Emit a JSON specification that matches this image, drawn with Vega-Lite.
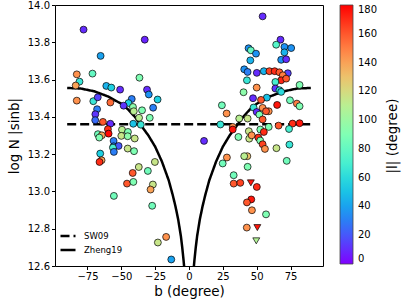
{
  "$schema": "https://vega.github.io/schema/vega-lite/v6.json",
  "width": 268,
  "height": 261,
  "autosize": "none",
  "padding": {"left": 55, "top": 5, "right": 84, "bottom": 39},
  "config": {
    "font": "DejaVu Sans",
    "view": {"stroke": "black", "strokeWidth": 1},
    "axis": {
      "grid": false,
      "domain": false,
      "tickColor": "black",
      "tickSize": 3.5,
      "labelColor": "black",
      "labelFontSize": 10,
      "labelPadding": 2,
      "labelOverlap": false,
      "labelFlush": false,
      "labelBound": false,
      "titleColor": "black",
      "titleFontSize": 13.5,
      "titleFontWeight": "normal"
    },
    "legend": {
      "labelFont": "DejaVu Sans",
      "titleFont": "DejaVu Sans"
    }
  },
  "resolve": {"axis": {"y": "independent"}},
  "layer": [
    {
      "data": {
        "values": [
          {"series": "SW09", "part": "a", "b": -90, "v": 13.36},
          {"series": "SW09", "part": "a", "b": 90, "v": 13.36},
          {"series": "Zheng19", "part": "L", "b": -90, "v": 13.555},
          {"series": "Zheng19", "part": "L", "b": -80, "v": 13.552},
          {"series": "Zheng19", "part": "L", "b": -70, "v": 13.537},
          {"series": "Zheng19", "part": "L", "b": -60, "v": 13.51},
          {"series": "Zheng19", "part": "L", "b": -50, "v": 13.47},
          {"series": "Zheng19", "part": "L", "b": -45, "v": 13.44},
          {"series": "Zheng19", "part": "L", "b": -40, "v": 13.4},
          {"series": "Zheng19", "part": "L", "b": -35, "v": 13.35},
          {"series": "Zheng19", "part": "L", "b": -30, "v": 13.3},
          {"series": "Zheng19", "part": "L", "b": -25, "v": 13.24},
          {"series": "Zheng19", "part": "L", "b": -20, "v": 13.16},
          {"series": "Zheng19", "part": "L", "b": -15, "v": 13.06},
          {"series": "Zheng19", "part": "L", "b": -12, "v": 12.98},
          {"series": "Zheng19", "part": "L", "b": -10, "v": 12.92},
          {"series": "Zheng19", "part": "L", "b": -8, "v": 12.85},
          {"series": "Zheng19", "part": "L", "b": -6, "v": 12.76},
          {"series": "Zheng19", "part": "L", "b": -5, "v": 12.7},
          {"series": "Zheng19", "part": "L", "b": -4, "v": 12.63},
          {"series": "Zheng19", "part": "L", "b": -3.5, "v": 12.59},
          {"series": "Zheng19", "part": "R", "b": 3.5, "v": 12.59},
          {"series": "Zheng19", "part": "R", "b": 4, "v": 12.63},
          {"series": "Zheng19", "part": "R", "b": 5, "v": 12.7},
          {"series": "Zheng19", "part": "R", "b": 6, "v": 12.76},
          {"series": "Zheng19", "part": "R", "b": 8, "v": 12.85},
          {"series": "Zheng19", "part": "R", "b": 10, "v": 12.92},
          {"series": "Zheng19", "part": "R", "b": 12, "v": 12.98},
          {"series": "Zheng19", "part": "R", "b": 15, "v": 13.06},
          {"series": "Zheng19", "part": "R", "b": 20, "v": 13.16},
          {"series": "Zheng19", "part": "R", "b": 25, "v": 13.24},
          {"series": "Zheng19", "part": "R", "b": 30, "v": 13.3},
          {"series": "Zheng19", "part": "R", "b": 35, "v": 13.35},
          {"series": "Zheng19", "part": "R", "b": 40, "v": 13.4},
          {"series": "Zheng19", "part": "R", "b": 45, "v": 13.44},
          {"series": "Zheng19", "part": "R", "b": 50, "v": 13.47},
          {"series": "Zheng19", "part": "R", "b": 60, "v": 13.51},
          {"series": "Zheng19", "part": "R", "b": 70, "v": 13.537},
          {"series": "Zheng19", "part": "R", "b": 80, "v": 13.552},
          {"series": "Zheng19", "part": "R", "b": 90, "v": 13.555}
        ]
      },
      "mark": {"type": "line", "stroke": "black", "strokeWidth": 2.5, "clip": true},
      "encoding": {
        "x": {
          "field": "b",
          "type": "quantitative",
          "scale": {"domain": [-99, 99], "nice": false, "zero": false},
          "axis": {"values": [-75, -50, -25, 0, 25, 50, 75], "title": "b (degree)", "titlePadding": 3}
        },
        "y": {
          "field": "v",
          "type": "quantitative",
          "scale": {"domain": [12.6, 14.0], "nice": false, "zero": false},
          "axis": {"orient": "left", "values": [12.6, 12.8, 13.0, 13.2, 13.4, 13.6, 13.8, 14.0], "format": ".1f", "title": "log N |sinb|", "titlePadding": 6}
        },
        "detail": {"field": "part"},
        "strokeDash": {
          "field": "series",
          "type": "nominal",
          "scale": {"domain": ["SW09", "Zheng19"], "range": [[9, 4], [1, 0]]},
          "legend": {
            "title": null,
            "orient": "none",
            "legendX": 4,
            "legendY": 222,
            "symbolType": "stroke",
            "symbolStrokeColor": "black",
            "symbolStrokeWidth": 2.5,
            "symbolSize": 225,
            "labelFontSize": 8.5,
            "labelColor": "black",
            "labelOffset": 7,
            "rowPadding": 0
          }
        }
      }
    },
    {
      "data": {
        "values": [
          {"b": -77.9, "v": 13.868, "l": 10, "s": "c"},
          {"b": -32.7, "v": 13.814, "l": 8, "s": "c"},
          {"b": -65.3, "v": 13.727, "l": 40, "s": "c"},
          {"b": -82.9, "v": 13.628, "l": 145, "s": "c"},
          {"b": -71.3, "v": 13.632, "l": 80, "s": "c"},
          {"b": -80.9, "v": 13.589, "l": 65, "s": "c"},
          {"b": -83.7, "v": 13.568, "l": 140, "s": "c"},
          {"b": -36.6, "v": 13.61, "l": 90, "s": "c"},
          {"b": -61.1, "v": 13.566, "l": 45, "s": "c"},
          {"b": -57.4, "v": 13.557, "l": 55, "s": "c"},
          {"b": -50.9, "v": 13.546, "l": 10, "s": "c"},
          {"b": -31.0, "v": 13.546, "l": 10, "s": "c"},
          {"b": -29.7, "v": 13.52, "l": 35, "s": "c"},
          {"b": -82.9, "v": 13.487, "l": 145, "s": "c"},
          {"b": -70.7, "v": 13.484, "l": 65, "s": "c"},
          {"b": -67.4, "v": 13.505, "l": 15, "s": "c"},
          {"b": -23.2, "v": 13.493, "l": 55, "s": "c"},
          {"b": -58.1, "v": 13.477, "l": 155, "s": "c"},
          {"b": -42.3, "v": 13.496, "l": 30, "s": "c"},
          {"b": -44.7, "v": 13.474, "l": 55, "s": "c"},
          {"b": -48.3, "v": 13.46, "l": 12, "s": "c"},
          {"b": -26.5, "v": 13.449, "l": 30, "s": "c"},
          {"b": -41.4, "v": 13.453, "l": 95, "s": "c"},
          {"b": -34.7, "v": 13.435, "l": 90, "s": "c"},
          {"b": -67.9, "v": 13.441, "l": 30, "s": "c"},
          {"b": -69.2, "v": 13.414, "l": 12, "s": "c"},
          {"b": -40.8, "v": 13.43, "l": 110, "s": "c"},
          {"b": -36.9, "v": 13.395, "l": 110, "s": "c"},
          {"b": -29.0, "v": 13.395, "l": 90, "s": "c"},
          {"b": -69.3, "v": 13.382, "l": 25, "s": "c"},
          {"b": -63.6, "v": 13.373, "l": 160, "s": "c"},
          {"b": -58.1, "v": 13.363, "l": 10, "s": "c"},
          {"b": -41.2, "v": 13.363, "l": 50, "s": "c"},
          {"b": -35.6, "v": 13.358, "l": 65, "s": "c"},
          {"b": -59.9, "v": 13.334, "l": 170, "s": "c"},
          {"b": -59.4, "v": 13.31, "l": 178, "s": "c"},
          {"b": -67.3, "v": 13.307, "l": 85, "s": "c"},
          {"b": -64.4, "v": 13.301, "l": 140, "s": "c"},
          {"b": -66.3, "v": 13.289, "l": 90, "s": "c"},
          {"b": -49.5, "v": 13.331, "l": 110, "s": "c"},
          {"b": -45.1, "v": 13.319, "l": 90, "s": "c"},
          {"b": -50.0, "v": 13.298, "l": 115, "s": "c"},
          {"b": -45.3, "v": 13.296, "l": 95, "s": "c"},
          {"b": -40.1, "v": 13.284, "l": 115, "s": "c"},
          {"b": -55.7, "v": 13.271, "l": 30, "s": "c"},
          {"b": -55.7, "v": 13.242, "l": 30, "s": "c"},
          {"b": -52.0, "v": 13.244, "l": 20, "s": "c"},
          {"b": -56.2, "v": 13.235, "l": 70, "s": "c"},
          {"b": -55.5, "v": 13.212, "l": 30, "s": "c"},
          {"b": -45.3, "v": 13.23, "l": 115, "s": "c"},
          {"b": -40.6, "v": 13.216, "l": 90, "s": "c"},
          {"b": -65.6, "v": 13.203, "l": 55, "s": "c"},
          {"b": -64.6, "v": 13.167, "l": 140, "s": "c"},
          {"b": -66.1, "v": 13.158, "l": 170, "s": "c"},
          {"b": -37.1, "v": 13.131, "l": 115, "s": "c"},
          {"b": -30.4, "v": 13.11, "l": 85, "s": "c"},
          {"b": -41.6, "v": 13.099, "l": 160, "s": "c"},
          {"b": -25.2, "v": 13.158, "l": 115, "s": "c"},
          {"b": -45.8, "v": 13.042, "l": 160, "s": "c"},
          {"b": -41.1, "v": 13.051, "l": 90, "s": "c"},
          {"b": -26.7, "v": 13.037, "l": 115, "s": "c"},
          {"b": -28.4, "v": 13.01, "l": 140, "s": "c"},
          {"b": -55.5, "v": 12.976, "l": 85, "s": "c"},
          {"b": -27.2, "v": 12.923, "l": 85, "s": "c"},
          {"b": -16.9, "v": 12.756, "l": 145, "s": "c"},
          {"b": -23.0, "v": 12.726, "l": 115, "s": "c"},
          {"b": -13.1, "v": 12.635, "l": 40, "s": "c"},
          {"b": 54.4, "v": 13.939, "l": 10, "s": "c"},
          {"b": 67.6, "v": 13.814, "l": 10, "s": "c"},
          {"b": 64.4, "v": 13.787, "l": 75, "s": "c"},
          {"b": 44.0, "v": 13.768, "l": 35, "s": "c"},
          {"b": 45.7, "v": 13.757, "l": 80, "s": "c"},
          {"b": 70.5, "v": 13.775, "l": 35, "s": "c"},
          {"b": 75.5, "v": 13.769, "l": 35, "s": "c"},
          {"b": 70.5, "v": 13.746, "l": 45, "s": "c"},
          {"b": 49.5, "v": 13.739, "l": 35, "s": "c"},
          {"b": 45.3, "v": 13.703, "l": 45, "s": "c"},
          {"b": 68.1, "v": 13.706, "l": 35, "s": "c"},
          {"b": 71.8, "v": 13.709, "l": 10, "s": "c"},
          {"b": 40.8, "v": 13.655, "l": 35, "s": "c"},
          {"b": 43.3, "v": 13.641, "l": 30, "s": "c"},
          {"b": 50.1, "v": 13.636, "l": 10, "s": "c"},
          {"b": 55.3, "v": 13.645, "l": 45, "s": "c"},
          {"b": 59.4, "v": 13.645, "l": 165, "s": "c"},
          {"b": 63.3, "v": 13.645, "l": 170, "s": "c"},
          {"b": 66.8, "v": 13.639, "l": 160, "s": "c"},
          {"b": 73.0, "v": 13.634, "l": 15, "s": "c"},
          {"b": 69.3, "v": 13.623, "l": 150, "s": "c"},
          {"b": 42.8, "v": 13.596, "l": 65, "s": "c"},
          {"b": 68.1, "v": 13.596, "l": 172, "s": "c"},
          {"b": 71.8, "v": 13.605, "l": 160, "s": "c"},
          {"b": 63.8, "v": 13.587, "l": 70, "s": "c"},
          {"b": 81.7, "v": 13.571, "l": 90, "s": "c"},
          {"b": 40.3, "v": 13.532, "l": 95, "s": "c"},
          {"b": 50.0, "v": 13.557, "l": 145, "s": "c"},
          {"b": 63.8, "v": 13.552, "l": 12, "s": "c"},
          {"b": 47.3, "v": 13.5, "l": 10, "s": "c"},
          {"b": 57.5, "v": 13.503, "l": 50, "s": "c"},
          {"b": 74.6, "v": 13.489, "l": 85, "s": "c"},
          {"b": 53.2, "v": 13.491, "l": 160, "s": "c"},
          {"b": 65.1, "v": 13.464, "l": 175, "s": "c"},
          {"b": 79.7, "v": 13.471, "l": 150, "s": "c"},
          {"b": 81.7, "v": 13.457, "l": 90, "s": "c"},
          {"b": 24.3, "v": 13.462, "l": 85, "s": "c"},
          {"b": 27.8, "v": 13.418, "l": 145, "s": "c"},
          {"b": 37.1, "v": 13.391, "l": 110, "s": "c"},
          {"b": 23.2, "v": 13.359, "l": 65, "s": "c"},
          {"b": 32.3, "v": 13.346, "l": 145, "s": "c"},
          {"b": 32.3, "v": 13.332, "l": 175, "s": "c"},
          {"b": 66.2, "v": 13.353, "l": 160, "s": "c"},
          {"b": 76.5, "v": 13.364, "l": 170, "s": "c"},
          {"b": 81.7, "v": 13.366, "l": 175, "s": "c"},
          {"b": 73.9, "v": 13.335, "l": 70, "s": "c"},
          {"b": 66.8, "v": 13.543, "l": 60, "s": "c"},
          {"b": 68.1, "v": 13.534, "l": 60, "s": "c"},
          {"b": 47.7, "v": 13.45, "l": 65, "s": "c"},
          {"b": 54.4, "v": 13.448, "l": 145, "s": "c"},
          {"b": 58.9, "v": 13.43, "l": 145, "s": "c"},
          {"b": 50.0, "v": 13.426, "l": 10, "s": "c"},
          {"b": 52.0, "v": 13.412, "l": 90, "s": "c"},
          {"b": 56.9, "v": 13.43, "l": 160, "s": "c"},
          {"b": 43.3, "v": 13.391, "l": 115, "s": "c"},
          {"b": 54.4, "v": 13.386, "l": 160, "s": "c"},
          {"b": 58.9, "v": 13.346, "l": 90, "s": "c"},
          {"b": 52.7, "v": 13.332, "l": 90, "s": "c"},
          {"b": 55.3, "v": 13.319, "l": 170, "s": "c"},
          {"b": 36.5, "v": 13.292, "l": 90, "s": "c"},
          {"b": 44.2, "v": 13.323, "l": 115, "s": "c"},
          {"b": 44.5, "v": 13.283, "l": 115, "s": "c"},
          {"b": 46.3, "v": 13.301, "l": 145, "s": "c"},
          {"b": 51.2, "v": 13.289, "l": 170, "s": "c"},
          {"b": 52.6, "v": 13.273, "l": 90, "s": "c"},
          {"b": 54.4, "v": 13.253, "l": 165, "s": "c"},
          {"b": 56.1, "v": 13.228, "l": 145, "s": "c"},
          {"b": 64.6, "v": 13.232, "l": 115, "s": "c"},
          {"b": 74.2, "v": 13.251, "l": 65, "s": "c"},
          {"b": 11.1, "v": 13.271, "l": 10, "s": "c"},
          {"b": 28.0, "v": 13.182, "l": 145, "s": "c"},
          {"b": 43.1, "v": 13.189, "l": 130, "s": "c"},
          {"b": 40.8, "v": 13.189, "l": 110, "s": "c"},
          {"b": 24.9, "v": 13.15, "l": 85, "s": "c"},
          {"b": 43.3, "v": 13.132, "l": 90, "s": "c"},
          {"b": 72.2, "v": 13.164, "l": 85, "s": "c"},
          {"b": 33.0, "v": 13.087, "l": 85, "s": "c"},
          {"b": 33.0, "v": 13.042, "l": 160, "s": "c"},
          {"b": 37.9, "v": 13.046, "l": 165, "s": "c"},
          {"b": 45.7, "v": 13.046, "l": 175, "s": "t"},
          {"b": 50.1, "v": 13.024, "l": 170, "s": "c"},
          {"b": 46.0, "v": 12.957, "l": 175, "s": "c"},
          {"b": 42.8, "v": 12.941, "l": 160, "s": "c"},
          {"b": 46.5, "v": 12.899, "l": 145, "s": "c"},
          {"b": 56.9, "v": 12.877, "l": 90, "s": "c"},
          {"b": 42.7, "v": 12.806, "l": 145, "s": "c"},
          {"b": 50.5, "v": 12.806, "l": 175, "s": "t"},
          {"b": 49.7, "v": 12.735, "l": 108, "s": "t"}
        ]
      },
      "mark": {"type": "point", "filled": true, "stroke": "black", "strokeWidth": 0.7, "opacity": 1, "size": 48},
      "encoding": {
        "x": {
          "field": "b",
          "type": "quantitative",
          "scale": {"domain": [-99, 99], "nice": false, "zero": false},
          "axis": {"values": [-75, -50, -25, 0, 25, 50, 75], "title": "b (degree)", "titlePadding": 3}
        },
        "y": {
          "field": "v",
          "type": "quantitative",
          "scale": {"domain": [12.6, 14.0], "nice": false, "zero": false},
          "axis": {"orient": "right", "labels": false, "ticks": false, "domain": false, "title": "|l| (degree)", "titleAngle": 270, "titlePadding": 76}
        },
        "shape": {
          "field": "s",
          "type": "nominal",
          "scale": {"domain": ["c", "t"], "range": ["circle", "triangle-down"]},
          "legend": null
        },
        "fill": {
          "field": "l",
          "type": "quantitative",
          "scale": {
            "domain": [0, 180],
            "range": ["#8000ff", "#4d4ffc", "#1a96f2", "#1acee3", "#4df3ce", "#80ffb4", "#b3f396", "#e6ce74", "#ff964f", "#ff4f28", "#ff0000"],
            "interpolate": "rgb"
          },
          "legend": {
            "title": null,
            "orient": "none",
            "legendX": 285,
            "legendY": 0,
            "direction": "vertical",
            "gradientLength": 259,
            "gradientThickness": 13,
            "gradientStrokeColor": "#444",
            "gradientStrokeWidth": 0.8,
            "values": [0, 20, 40, 60, 80, 100, 120, 140, 160, 180],
            "labelFontSize": 10,
            "labelColor": "black",
            "labelOffset": 5
          }
        }
      }
    }
  ]
}
